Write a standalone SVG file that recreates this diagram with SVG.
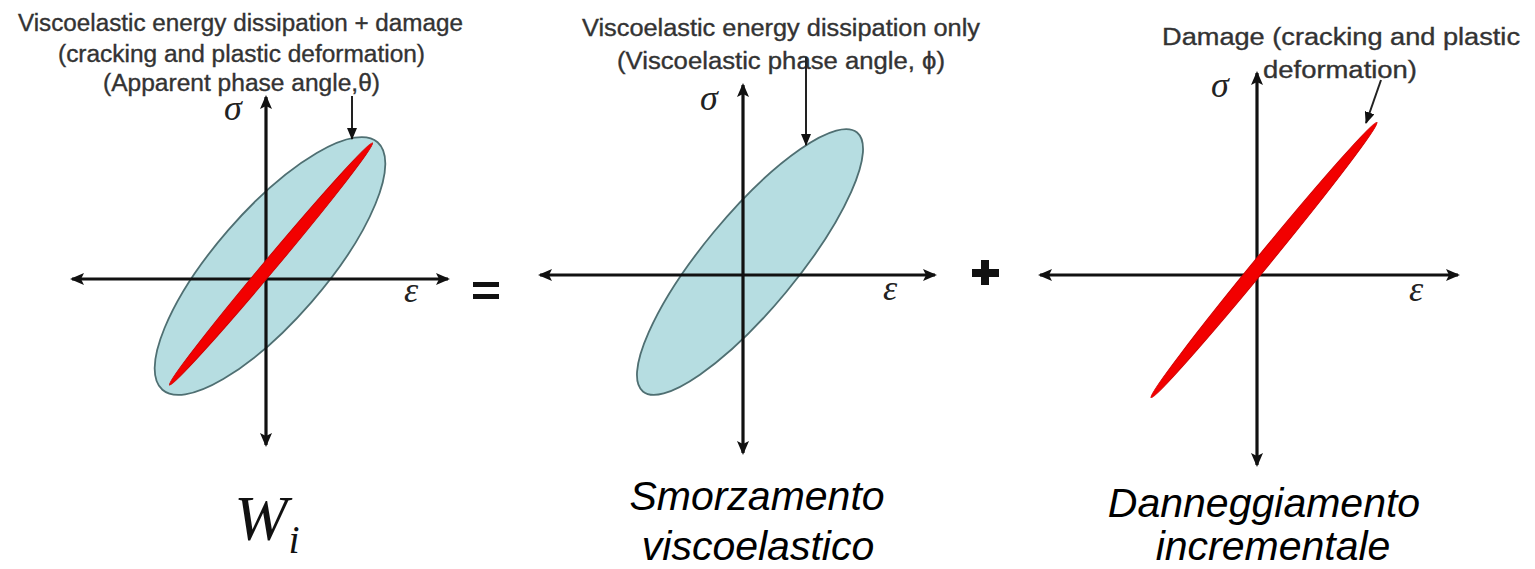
<svg xmlns="http://www.w3.org/2000/svg" width="1535" height="569" viewBox="0 0 1535 569">
<style>
.axis{stroke:#111;stroke-width:3.2;fill:none;marker-start:url(#ah);marker-end:url(#ah)}
.call{stroke:#222;stroke-width:2;fill:none;marker-end:url(#ch)}
.lab{font-family:"Liberation Sans",Arial,sans-serif;font-size:23px;fill:#333;stroke:#333;stroke-width:0.35;text-anchor:middle}
.sym{font-family:"Liberation Serif","Times New Roman",serif;font-style:italic;fill:#222;text-anchor:middle}
.cap{font-family:"Liberation Sans",Arial,sans-serif;font-style:italic;font-size:41px;fill:#000;text-anchor:middle}
.loop{fill:#b6dde1;stroke:#4f6f72;stroke-width:1.8}
.dmg{fill:#f20000;stroke:#d00000;stroke-width:1}
.op{fill:#111}
</style>
<defs>
<marker id="ah" viewBox="0 0 14 12" refX="12" refY="6" markerWidth="14" markerHeight="12" markerUnits="userSpaceOnUse" orient="auto-start-reverse">
<path d="M0,0 L14,6 L0,12 L3,6 Z" fill="#111"/>
</marker>
<marker id="ch" viewBox="0 0 12 10" refX="11" refY="5" markerWidth="12" markerHeight="10" markerUnits="userSpaceOnUse" orient="auto">
<path d="M0,0 L12,5 L0,10 Z" fill="#111"/>
</marker>
</defs>
<rect width="1535" height="569" fill="#fff"/>

<g id="panel-total">
<ellipse class="loop" cx="270" cy="266" rx="164" ry="55" transform="rotate(-49 270 266)"/>
<line class="axis" x1="72" y1="279" x2="448" y2="279"/>
<line class="axis" x1="266" y1="445" x2="266" y2="97"/>
<ellipse class="dmg" cx="271" cy="264" rx="158" ry="6.2" transform="rotate(-50 271 264)"/>
<text class="sym" x="233" y="120" font-size="36">σ</text>
<text class="sym" x="411" y="302" font-size="36">ε</text>
<text class="lab" x="240.5" y="31" textLength="445" lengthAdjust="spacingAndGlyphs">Viscoelastic energy dissipation + damage</text>
<text class="lab" x="241.5" y="62" textLength="367" lengthAdjust="spacingAndGlyphs">(cracking and plastic deformation)</text>
<text class="lab" x="241.5" y="91" textLength="277" lengthAdjust="spacingAndGlyphs">(Apparent phase angle,θ)</text>
<text x="261" y="540" font-family="'Liberation Serif','Times New Roman',serif" font-style="italic" font-size="64" fill="#111" text-anchor="middle">W</text>
<text x="294" y="553" font-family="'Liberation Serif','Times New Roman',serif" font-style="italic" font-size="40" fill="#111" text-anchor="middle">i</text>
</g>

<g id="op-equals">
<rect class="op" x="473" y="282" width="26" height="5"/>
<rect class="op" x="473" y="294" width="26" height="5"/>
</g>

<g id="panel-viscoelastic">
<ellipse class="loop" cx="750" cy="262" rx="168" ry="47" transform="rotate(-50.4 750 262)"/>
<line class="axis" x1="540" y1="275" x2="935" y2="275"/>
<line class="axis" x1="743" y1="453" x2="743" y2="85"/>
<text class="sym" x="709" y="110" font-size="36">σ</text>
<text class="sym" x="890" y="300" font-size="36">ε</text>
<text class="lab" x="781" y="36" textLength="398" lengthAdjust="spacingAndGlyphs">Viscoelastic energy dissipation only</text>
<text class="lab" x="781" y="69" textLength="328" lengthAdjust="spacingAndGlyphs">(Viscoelastic phase angle, ϕ)</text>
<text class="cap" x="757" y="510">Smorzamento</text>
<text class="cap" x="758" y="560">viscoelastico</text>
</g>

<g id="op-plus">
<rect class="op" x="972" y="269" width="27" height="8"/>
<rect class="op" x="981" y="260" width="8" height="25"/>
</g>

<g id="panel-damage">
<line class="axis" x1="1040" y1="275" x2="1458" y2="275"/>
<line class="axis" x1="1257" y1="465" x2="1257" y2="73"/>
<ellipse class="dmg" cx="1264" cy="260" rx="178" ry="6.8" transform="rotate(-50.6 1264 260)"/>
<text class="sym" x="1220" y="97" font-size="36">σ</text>
<text class="sym" x="1416" y="301" font-size="36">ε</text>
<text class="lab" x="1341" y="45" textLength="358" lengthAdjust="spacingAndGlyphs">Damage (cracking and plastic</text>
<text class="lab" x="1340" y="78" textLength="154" lengthAdjust="spacingAndGlyphs">deformation)</text>
<text class="cap" x="1264" y="517">Danneggiamento</text>
<text class="cap" x="1273" y="560">incrementale</text>
</g>

<g id="connectors">
<line class="call" x1="352" y1="96" x2="352" y2="139"/>
<line class="call" x1="806" y1="57" x2="806" y2="145"/>
<line class="call" x1="1381" y1="80" x2="1366" y2="123"/>
</g>
</svg>
